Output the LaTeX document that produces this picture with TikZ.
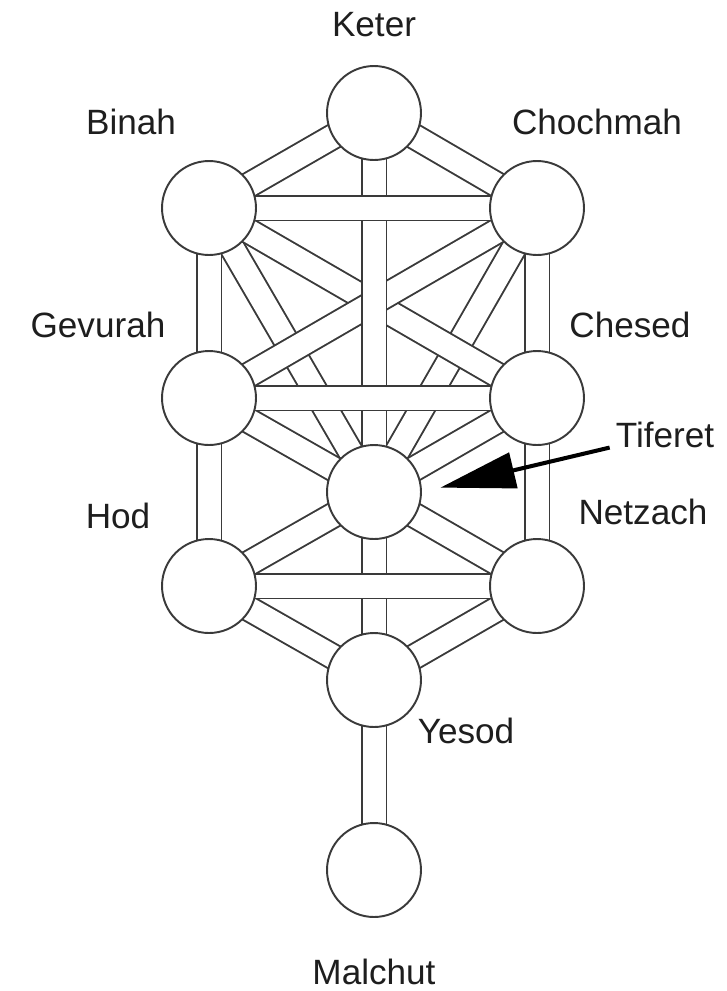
\documentclass[tikz,border=0pt]{standalone}
\usepackage{fontspec}
\setmainfont{Liberation Sans}
\usetikzlibrary{arrows.meta, backgrounds}
\definecolor{inkgray}{HTML}{3A3A3A}
\definecolor{txtblack}{HTML}{1E1E1E}

\begin{document}
\begin{tikzpicture}[
    x=0.02cm, y=-0.02cm,
    sefira/.style={circle, draw=inkgray, line width=1.1pt, fill=white,
                   minimum size=1.88cm, inner sep=0pt},
    channel/.style={draw=inkgray, line width=1.1pt, double=white,
                    double distance=0.46cm},
    sefname/.style={font=\fontsize{20}{24}\selectfont, text=txtblack},
    pointer/.style={draw=black, line width=2.3pt,
                    -{Triangle[length=1.5cm, width=0.72cm]}},
  ]

  \useasboundingbox (0,0) rectangle (727,991);

  % === Sefirot ===
  \node[sefira] (keter)    at (374,113) {};
  \node[sefira] (binah)    at (209,208) {};
  \node[sefira] (chochmah) at (537,208) {};
  \node[sefira] (gevurah)  at (209,398) {};
  \node[sefira] (chesed)   at (537,398) {};
  \node[sefira] (tiferet)  at (374,492) {};
  \node[sefira] (hod)      at (209,586) {};
  \node[sefira] (netzach)  at (537,586) {};
  \node[sefira] (yesod)    at (374,680) {};
  \node[sefira] (malchut)  at (374,870) {};

  % === Names ===
  \node[sefname] (keterlbl)    at (374,25)  {Keter};
  \node[sefname] (binahlbl)    at (131,122) {Binah};
  \node[sefname] (chochmahlbl) at (597,122) {Chochmah};
  \node[sefname] (gevurahlbl)  at (98,325)  {Gevurah};
  \node[sefname] (chesedlbl)   at (630,325) {Chesed};
  \node[sefname] (tiferetlbl)  at (665,435) {Tiferet};
  \node[sefname] (hodlbl)      at (118,516) {Hod};
  \node[sefname] (netzachlbl)  at (643,512) {Netzach};
  \node[sefname] (yesodlbl)    at (466,731) {Yesod};
  \node[sefname] (malchutlbl)  at (374,972) {Malchut};

  % === Paths, woven, behind the circles ===
  \begin{scope}[on background layer]
    \fill[white] (0,0) rectangle (727,991);
    % lowest: steep paths into Tiferet
    \foreach \a/\b in {binah/tiferet, chochmah/tiferet}
      \draw[channel] (\a.center) -- (\b.center);
    % the crossing pair
    \foreach \a/\b in {binah/chesed, chochmah/gevurah}
      \draw[channel] (\a.center) -- (\b.center);
    % remaining diagonals
    \foreach \a/\b in {keter/binah, keter/chochmah, gevurah/tiferet,
                       chesed/tiferet, hod/tiferet, netzach/tiferet,
                       hod/yesod, netzach/yesod}
      \draw[channel] (\a.center) -- (\b.center);
    % pillars
    \foreach \a/\b in {keter/tiferet, tiferet/yesod, yesod/malchut,
                       binah/gevurah, gevurah/hod,
                       chochmah/chesed, chesed/netzach}
      \draw[channel] (\a.center) -- (\b.center);
    % horizontals on top
    \foreach \a/\b in {binah/chochmah, gevurah/chesed, hod/netzach}
      \draw[channel] (\a.center) -- (\b.center);
  \end{scope}

  % Tiferet pointer
  \draw[pointer, shorten >=0.38cm] (tiferetlbl.base west) -- (tiferet.east);

\end{tikzpicture}
\end{document}
